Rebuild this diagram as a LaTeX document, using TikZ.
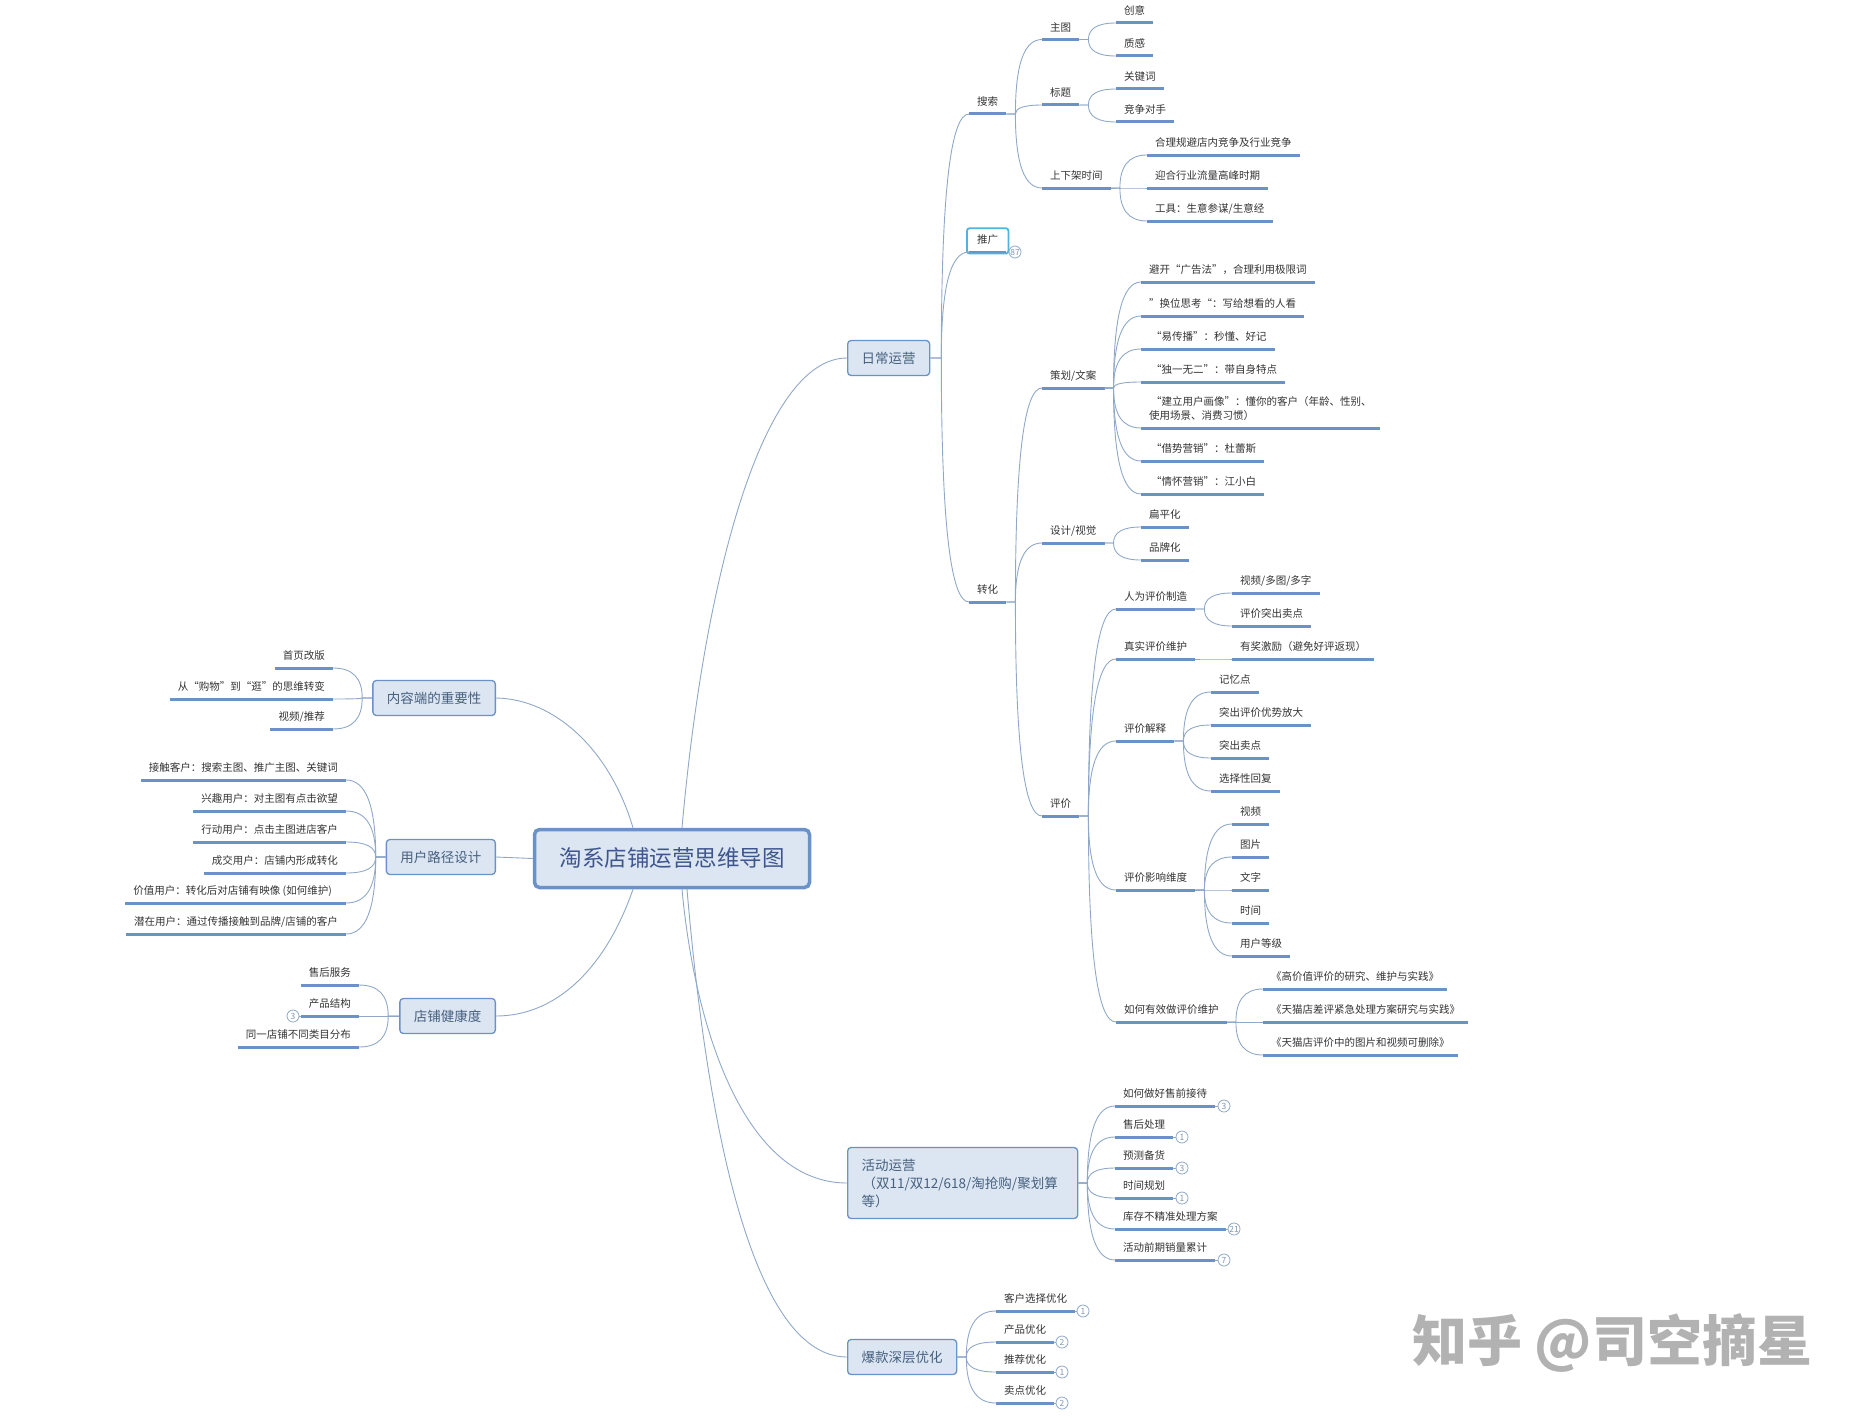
\documentclass[tikz,border=0pt]{standalone}
\usepackage{fontspec}
\setmainfont{Noto Sans CJK SC}
\usetikzlibrary{calc}

\definecolor{linkblue}{HTML}{8FA8C8}
\definecolor{lineblue}{HTML}{6A92C6}
\definecolor{boxfill}{HTML}{DCE6F2}
\definecolor{boxtext}{HTML}{46607F}
\definecolor{selectblue}{HTML}{4FB3DE}

\tikzset{
    topic/.style={anchor=south west, inner xsep=8pt, inner ysep=8pt, text depth=0pt, font=\fontsize{10.5}{14}\selectfont, text=black!80,
        append after command={\pgfextra{\draw[line width=3pt, lineblue] (\tikzlastnode.south west) -- (\tikzlastnode.south east);}}},
    topicleft/.style={topic, anchor=south east},
    mainbox/.style={draw=lineblue, fill=boxfill, line width=1.3pt, rounded corners=3.5pt, inner xsep=14pt, minimum height=35pt, text=boxtext, font=\fontsize{13.5}{18}\selectfont},
    rootbox/.style={draw=lineblue, fill=boxfill, line width=3.5pt, rounded corners=5pt, minimum width=275pt, minimum height=58pt, text=boxtext!90!blue, font=\fontsize{22.5}{26}\selectfont},
    badge/.style={circle, draw=linkblue, fill=white, line width=0.8pt, minimum size=12pt, inner sep=0pt, text=linkblue!90!black, font=\fontsize{8.5}{9}\selectfont},
    selectbox/.style={draw=selectblue, line width=1.8pt, rounded corners=2.5pt},
    link/.style={draw=linkblue, line width=0.9pt},
}

\newcommand{\linkto}[3][9pt]{%
    \coordinate (jt) at ([xshift=#1]#2);
    \coordinate (jc) at (jt |- #3);
    \draw[link] (#2) -- (jt) .. controls ($(jt)!0.67!(jc)$) and ($(#3)!0.67!(jc)$) .. (#3);
}

\begin{document}
\begin{tikzpicture}[x=1pt, y=-1pt]
    \useasboundingbox (0,0) rectangle (1860,1418);

    \node[rootbox] (root) at (672,858.5) {\raisebox{2pt}{淘系店铺运营思维导图}};

    \node[mainbox, anchor=west] (daily) at (847,358) {日常运营};
    \node[mainbox, anchor=west, align=left, text width=202pt, minimum height=71pt] (event) at (847,1183) {活动运营\\\hspace*{1pt}（双11/双12/618/淘抢购/聚划算\\等）};
    \node[mainbox, anchor=west] (hot) at (847,1357) {爆款深层优化};
    \node[mainbox, anchor=east] (content) at (496,698) {内容端的重要性};
    \node[mainbox, anchor=east] (path) at (496,857) {用户路径设计};
    \node[mainbox, anchor=east] (health) at (496,1016) {店铺健康度};

    \draw[link] ([xshift=10pt]root.north) .. controls (704,580) and (762,358) .. (daily.west);
    \draw[link] ([xshift=10pt]root.south) .. controls (695,1030) and (745,1183) .. (event.west);
    \draw[link] ([xshift=15pt]root.south) .. controls (710,1160) and (760,1357) .. (hot.west);
    \draw[link] ([xshift=-39pt]root.north) .. controls (610,750) and (555,699) .. (content.east);
    \draw[link] (root.west) -- (path.east);
    \draw[link] ([xshift=-39pt]root.south) .. controls (605,970) and (555,1016) .. (health.east);

    \node[topic] (search) at (969,114) {搜索};
    \node[topic] (promo) at (969,252) {推广};
    \node[topic] (convert) at (969,602) {转化};
    \draw[selectbox] ([xshift=-2pt,yshift=-1.5pt]promo.south west) rectangle ([xshift=2pt,yshift=-1.5pt]promo.north east);
    \foreach \kid in {search,promo,convert} {\linkto[11pt]{daily.east}{\kid.south west}}

    \node[topic] (mainpic) at (1042,39.5) {主图};
    \node[topic] (title) at (1042,105) {标题};
    \node[topic] (shelf) at (1042,188) {上下架时间};
    \foreach \kid in {mainpic,title,shelf} {\linkto{search.south east}{\kid.south west}}

    \node[topic] (idea) at (1116,23) {创意};
    \node[topic] (texture) at (1116,56) {质感};
    \foreach \kid in {idea,texture} {\linkto{mainpic.south east}{\kid.south west}}

    \node[topic] (keyword) at (1116,89) {关键词};
    \node[topic] (rival) at (1116,122) {竞争对手};
    \foreach \kid in {keyword,rival} {\linkto{title.south east}{\kid.south west}}

    \node[topic] (avoid) at (1147,155) {合理规避店内竞争及行业竞争};
    \node[topic] (peak) at (1147,188) {迎合行业流量高峰时期};
    \node[topic] (tool) at (1147,221) {工具：生意参谋/生意经};
    \foreach \kid in {avoid,peak,tool} {\linkto{shelf.south east}{\kid.south west}}

    \node[topic] (copy) at (1042,388) {策划/文案};
    \node[topic] (design) at (1042,543) {设计/视觉};
    \node[topic] (review) at (1042,816) {评价};
    \foreach \kid in {copy,design,review} {\linkto{convert.south east}{\kid.south west}}

    \node[topic] (ada) at (1141,282) {避开“广告法”，合理利用极限词};
    \node[topic] (swap) at (1141,316) {”换位思考“：写给想看的人看};
    \node[topic] (spread) at (1141,349) {\hspace*{2pt}“易传播”：秒懂、好记};
    \node[topic] (unique) at (1141,382) {\hspace*{2pt}“独一无二”：带自身特点};
    \node[topic, align=left] (persona) at (1141,428) {\hspace*{2pt}“建立用户画像”：懂你的客户（年龄、性别、\\使用场景、消费习惯）};
    \node[topic] (trend) at (1141,461) {\hspace*{2pt}“借势营销”：杜蕾斯};
    \node[topic] (memory) at (1141,494) {\hspace*{2pt}“情怀营销”：江小白};
    \foreach \kid in {ada,swap,spread,unique,persona,trend,memory} {\linkto{copy.south east}{\kid.south west}}

    \node[topic] (flat) at (1141,527) {扁平化};
    \node[topic] (brand) at (1141,560) {品牌化};
    \foreach \kid in {flat,brand} {\linkto{design.south east}{\kid.south west}}

    \node[topic] (made) at (1116,609) {人为评价制造};
    \node[topic] (real) at (1116,659) {真实评价维护};
    \node[topic] (explain) at (1116,741) {评价解释};
    \node[topic] (factor) at (1116,890) {评价影响维度};
    \node[topic] (upkeep) at (1116,1022) {如何有效做评价维护};
    \foreach \kid in {made,real,explain,factor,upkeep} {\linkto{review.south east}{\kid.south west}}

    \node[topic] (media) at (1232,593) {视频/多图/多字};
    \node[topic] (sell) at (1232,626) {评价突出卖点};
    \foreach \kid in {media,sell} {\linkto{made.south east}{\kid.south west}}

    \node[topic] (reward) at (1232,659) {有奖激励（避免好评返现）};
    \linkto{real.south east}{reward.south west}

    \node[topic] (recall) at (1211,692) {记忆点};
    \node[topic] (edge) at (1211,725) {突出评价优势放大};
    \node[topic] (point) at (1211,758) {突出卖点};
    \node[topic] (reply) at (1211,791) {选择性回复};
    \foreach \kid in {recall,edge,point,reply} {\linkto{explain.south east}{\kid.south west}}

    \node[topic] (video) at (1232,824) {视频};
    \node[topic] (picture) at (1232,857) {图片};
    \node[topic] (words) at (1232,890) {文字};
    \node[topic] (time) at (1232,923) {时间};
    \node[topic] (level) at (1232,956) {用户等级};
    \foreach \kid in {video,picture,words,time,level} {\linkto{factor.south east}{\kid.south west}}

    \node[topic] (paperone) at (1263,989) {《高价值评价的研究、维护与实践》};
    \node[topic] (papertwo) at (1263,1022) {《天猫店差评紧急处理方案研究与实践》};
    \node[topic] (paperthree) at (1263,1055) {《天猫店评价中的图片和视频可删除》};
    \foreach \kid in {paperone,papertwo,paperthree} {\linkto{upkeep.south east}{\kid.south west}}

    \node[topic] (presale) at (1115,1106) {如何做好售前接待};
    \node[topic] (aftersale) at (1115,1137) {售后处理};
    \node[topic] (stock) at (1115,1168) {预测备货};
    \node[topic] (plan) at (1115,1198) {时间规划};
    \node[topic] (inventory) at (1115,1229) {库存不精准处理方案};
    \node[topic] (sales) at (1115,1260) {活动前期销量累计};
    \foreach \kid in {presale,aftersale,stock,plan,inventory,sales} {\linkto{event.east}{\kid.south west}}

    \node[topic] (customer) at (996,1311) {客户选择优化};
    \node[topic] (product) at (996,1342) {产品优化};
    \node[topic] (recommend) at (996,1372) {推荐优化};
    \node[topic] (selling) at (996,1403) {卖点优化};
    \foreach \kid in {customer,product,recommend,selling} {\linkto{hot.east}{\kid.south west}}

    \node[topicleft] (home) at (333,668) {首页改版};
    \node[topicleft] (stroll) at (333,699) {从“购物”到“逛”的思维转变};
    \node[topicleft] (feed) at (333,729) {视频/推荐};
    \foreach \kid in {home,stroll,feed} {\linkto[-10pt]{content.west}{\kid.south east}}

    \node[topicleft] (touch) at (346,780) {接触客户：搜索主图、推广主图、关键词};
    \node[topicleft] (interest) at (346,811) {兴趣用户：对主图有点击欲望};
    \node[topicleft] (action) at (346,842) {行动用户：点击主图进店客户};
    \node[topicleft] (deal) at (346,873) {成交用户：店铺内形成转化};
    \node[topicleft] (value) at (346,903) {价值用户：转化后对店铺有映像 (如何维护)\hspace*{6pt}};
    \node[topicleft] (latent) at (346,934) {潜在用户：通过传播接触到品牌/店铺的客户};
    \foreach \kid in {touch,interest,action,deal,value,latent} {\linkto[-10pt]{path.west}{\kid.south east}}

    \node[topicleft] (service) at (359,985) {售后服务};
    \node[topicleft] (structure) at (359,1016) {产品结构};
    \node[topicleft] (spreadcat) at (359,1047) {同一店铺不同类目分布};
    \foreach \kid in {service,structure,spreadcat} {\linkto[-11pt]{health.west}{\kid.south east}}

    \node[badge] (bpromo) at (1015,252) {87};
    \node[badge] (bpresale) at (1224,1106) {3};
    \node[badge] (baftersale) at (1182,1137) {1};
    \node[badge] (bstock) at (1182,1168) {3};
    \node[badge] (bplan) at (1182,1198) {1};
    \node[badge] (binventory) at (1234,1229) {21};
    \node[badge] (bsales) at (1224,1260) {7};
    \node[badge] (bcustomer) at (1083,1311) {1};
    \node[badge] (bproduct) at (1062,1342) {2};
    \node[badge] (brecommend) at (1062,1372) {1};
    \node[badge] (bselling) at (1062,1403) {2};
    \node[badge] (bstructure) at (293,1016) {3};
    \foreach \kid/\mark in {presale/bpresale,aftersale/baftersale,stock/bstock,plan/bplan,inventory/binventory,sales/bsales,customer/bcustomer,product/bproduct,recommend/brecommend,selling/bselling} {\draw[link] (\kid.south east) -- (\mark);}
    \draw[link] (structure.south west) -- (bstructure);

    \node[anchor=west, inner sep=0pt, text=black!30, font=\fontsize{55}{60}\selectfont\bfseries] (mark) at (1412,1343) {知乎 @司空摘星};
\end{tikzpicture}
\end{document}
